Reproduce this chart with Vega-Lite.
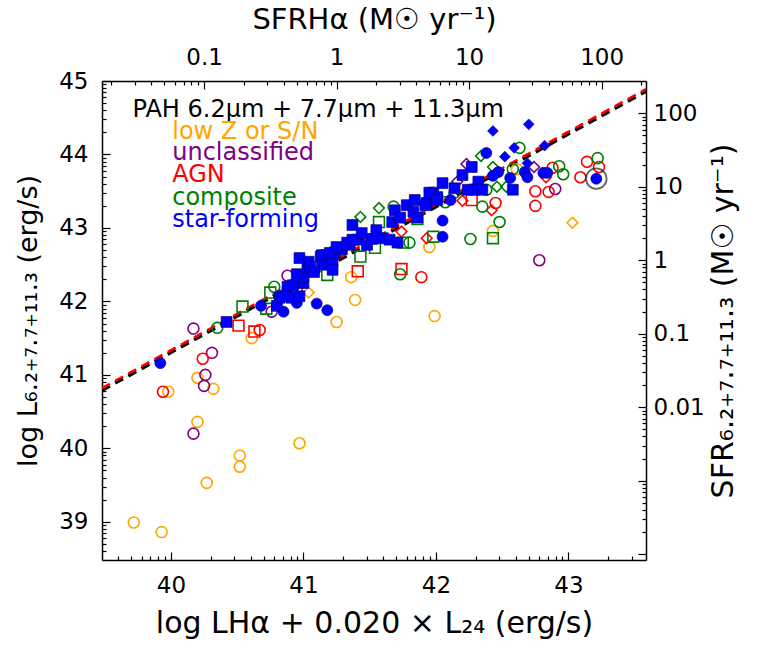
{
  "$schema": "https://vega.github.io/schema/vega-lite/v6.json",
  "width": 544,
  "height": 479,
  "autosize": {"type": "none"},
  "padding": {"left": 102, "top": 81, "right": 112, "bottom": 89},
  "background": "white",
  "config": {
    "font": "DejaVu Sans",
    "view": {"stroke": null},
    "axis": {
      "grid": false,
      "domainColor": "black",
      "domainWidth": 1.5,
      "tickColor": "black",
      "tickWidth": 1.2,
      "labelColor": "black",
      "titleColor": "black",
      "labelFont": "DejaVu Sans",
      "titleFont": "DejaVu Sans",
      "labelFontSize": 23,
      "titleFontSize": 29,
      "titleFontWeight": "normal",
      "labelFlush": false,
      "labelOverlap": false,
      "labelBound": false
    }
  },
  "datasets": {
    "pts": [
      {"x": 39.72, "y": 38.99, "cls": "lowz", "shape": "circle"},
      {"x": 39.93, "y": 38.86, "cls": "lowz", "shape": "circle"},
      {"x": 39.98, "y": 40.77, "cls": "lowz", "shape": "circle"},
      {"x": 40.20, "y": 40.96, "cls": "lowz", "shape": "circle"},
      {"x": 40.20, "y": 40.36, "cls": "lowz", "shape": "circle"},
      {"x": 40.32, "y": 40.81, "cls": "lowz", "shape": "circle"},
      {"x": 40.27, "y": 39.53, "cls": "lowz", "shape": "circle"},
      {"x": 40.52, "y": 39.90, "cls": "lowz", "shape": "circle"},
      {"x": 40.52, "y": 39.75, "cls": "lowz", "shape": "circle"},
      {"x": 40.97, "y": 40.07, "cls": "lowz", "shape": "circle"},
      {"x": 40.61, "y": 41.50, "cls": "lowz", "shape": "circle"},
      {"x": 41.25, "y": 41.72, "cls": "lowz", "shape": "circle"},
      {"x": 41.39, "y": 42.02, "cls": "lowz", "shape": "circle"},
      {"x": 41.36, "y": 42.33, "cls": "lowz", "shape": "circle"},
      {"x": 41.95, "y": 42.74, "cls": "lowz", "shape": "circle"},
      {"x": 41.99, "y": 41.80, "cls": "lowz", "shape": "circle"},
      {"x": 42.43, "y": 42.96, "cls": "lowz", "shape": "circle"},
      {"x": 42.61, "y": 43.80, "cls": "lowz", "shape": "circle"},
      {"x": 41.04, "y": 42.12, "cls": "lowz", "shape": "diamond"},
      {"x": 43.03, "y": 43.07, "cls": "lowz", "shape": "diamond"},
      {"x": 40.17, "y": 41.63, "cls": "uncl", "shape": "circle"},
      {"x": 40.31, "y": 41.30, "cls": "uncl", "shape": "circle"},
      {"x": 40.26, "y": 41.00, "cls": "uncl", "shape": "circle"},
      {"x": 40.25, "y": 40.85, "cls": "uncl", "shape": "circle"},
      {"x": 40.17, "y": 40.20, "cls": "uncl", "shape": "circle"},
      {"x": 40.76, "y": 41.86, "cls": "uncl", "shape": "circle"},
      {"x": 40.88, "y": 42.35, "cls": "uncl", "shape": "circle"},
      {"x": 42.90, "y": 43.53, "cls": "uncl", "shape": "circle"},
      {"x": 42.78, "y": 42.56, "cls": "uncl", "shape": "circle"},
      {"x": 42.23, "y": 43.87, "cls": "uncl", "shape": "diamond"},
      {"x": 42.16, "y": 43.63, "cls": "uncl", "shape": "diamond"},
      {"x": 42.74, "y": 43.83, "cls": "uncl", "shape": "diamond"},
      {"x": 39.94, "y": 40.77, "cls": "agn", "shape": "circle"},
      {"x": 40.24, "y": 41.22, "cls": "agn", "shape": "circle"},
      {"x": 40.67, "y": 41.61, "cls": "agn", "shape": "circle"},
      {"x": 40.95, "y": 42.16, "cls": "agn", "shape": "circle"},
      {"x": 41.89, "y": 42.33, "cls": "agn", "shape": "circle"},
      {"x": 42.45, "y": 43.34, "cls": "agn", "shape": "circle"},
      {"x": 42.75, "y": 43.50, "cls": "agn", "shape": "circle"},
      {"x": 42.75, "y": 43.30, "cls": "agn", "shape": "circle"},
      {"x": 42.85, "y": 43.49, "cls": "agn", "shape": "circle"},
      {"x": 42.88, "y": 43.82, "cls": "agn", "shape": "circle"},
      {"x": 43.09, "y": 43.69, "cls": "agn", "shape": "circle"},
      {"x": 43.14, "y": 43.90, "cls": "agn", "shape": "circle"},
      {"x": 43.23, "y": 43.83, "cls": "agn", "shape": "circle"},
      {"x": 40.51, "y": 41.67, "cls": "agn", "shape": "square"},
      {"x": 40.63, "y": 41.59, "cls": "agn", "shape": "square"},
      {"x": 41.41, "y": 42.41, "cls": "agn", "shape": "square"},
      {"x": 41.74, "y": 42.44, "cls": "agn", "shape": "square"},
      {"x": 42.27, "y": 43.38, "cls": "agn", "shape": "square"},
      {"x": 41.74, "y": 42.95, "cls": "agn", "shape": "diamond"},
      {"x": 41.93, "y": 42.86, "cls": "agn", "shape": "diamond"},
      {"x": 42.20, "y": 43.37, "cls": "agn", "shape": "diamond"},
      {"x": 42.42, "y": 43.24, "cls": "agn", "shape": "diamond"},
      {"x": 42.83, "y": 43.69, "cls": "agn", "shape": "diamond"},
      {"x": 40.35, "y": 41.64, "cls": "comp", "shape": "circle"},
      {"x": 40.78, "y": 42.20, "cls": "comp", "shape": "circle"},
      {"x": 41.68, "y": 43.29, "cls": "comp", "shape": "circle"},
      {"x": 41.80, "y": 42.80, "cls": "comp", "shape": "circle"},
      {"x": 41.73, "y": 42.37, "cls": "comp", "shape": "circle"},
      {"x": 42.14, "y": 43.48, "cls": "comp", "shape": "circle"},
      {"x": 42.07, "y": 43.35, "cls": "comp", "shape": "circle"},
      {"x": 42.35, "y": 43.29, "cls": "comp", "shape": "circle"},
      {"x": 42.38, "y": 43.52, "cls": "comp", "shape": "circle"},
      {"x": 42.48, "y": 43.08, "cls": "comp", "shape": "circle"},
      {"x": 42.26, "y": 42.85, "cls": "comp", "shape": "circle"},
      {"x": 42.63, "y": 44.09, "cls": "comp", "shape": "circle"},
      {"x": 42.58, "y": 43.80, "cls": "comp", "shape": "circle"},
      {"x": 42.93, "y": 43.84, "cls": "comp", "shape": "circle"},
      {"x": 42.96, "y": 43.73, "cls": "comp", "shape": "circle"},
      {"x": 43.22, "y": 43.95, "cls": "comp", "shape": "circle"},
      {"x": 40.54, "y": 41.93, "cls": "comp", "shape": "square"},
      {"x": 40.75, "y": 42.12, "cls": "comp", "shape": "square"},
      {"x": 40.72, "y": 41.90, "cls": "comp", "shape": "square"},
      {"x": 41.18, "y": 42.36, "cls": "comp", "shape": "square"},
      {"x": 41.18, "y": 42.63, "cls": "comp", "shape": "square"},
      {"x": 41.57, "y": 43.08, "cls": "comp", "shape": "square"},
      {"x": 41.54, "y": 42.73, "cls": "comp", "shape": "square"},
      {"x": 41.43, "y": 42.61, "cls": "comp", "shape": "square"},
      {"x": 41.19, "y": 42.57, "cls": "comp", "shape": "square"},
      {"x": 41.75, "y": 42.80, "cls": "comp", "shape": "square"},
      {"x": 41.86, "y": 43.12, "cls": "comp", "shape": "square"},
      {"x": 41.98, "y": 42.88, "cls": "comp", "shape": "square"},
      {"x": 42.43, "y": 42.86, "cls": "comp", "shape": "square"},
      {"x": 41.43, "y": 43.15, "cls": "comp", "shape": "diamond"},
      {"x": 41.57, "y": 43.27, "cls": "comp", "shape": "diamond"},
      {"x": 42.34, "y": 43.98, "cls": "comp", "shape": "diamond"},
      {"x": 42.43, "y": 43.83, "cls": "comp", "shape": "diamond"},
      {"x": 42.46, "y": 43.56, "cls": "comp", "shape": "diamond"},
      {"x": 42.53, "y": 43.56, "cls": "comp", "shape": "diamond"},
      {"x": 39.92, "y": 41.16, "cls": "sf", "shape": "circle"},
      {"x": 40.68, "y": 41.94, "cls": "sf", "shape": "circle"},
      {"x": 40.85, "y": 41.86, "cls": "sf", "shape": "circle"},
      {"x": 40.95, "y": 41.98, "cls": "sf", "shape": "circle"},
      {"x": 41.10, "y": 41.97, "cls": "sf", "shape": "circle"},
      {"x": 41.18, "y": 41.88, "cls": "sf", "shape": "circle"},
      {"x": 42.05, "y": 43.10, "cls": "sf", "shape": "circle"},
      {"x": 42.05, "y": 42.88, "cls": "sf", "shape": "circle"},
      {"x": 42.11, "y": 43.38, "cls": "sf", "shape": "circle"},
      {"x": 42.38, "y": 44.02, "cls": "sf", "shape": "circle"},
      {"x": 42.47, "y": 43.76, "cls": "sf", "shape": "circle"},
      {"x": 42.56, "y": 43.68, "cls": "sf", "shape": "circle"},
      {"x": 42.43, "y": 43.71, "cls": "sf", "shape": "circle"},
      {"x": 42.67, "y": 43.76, "cls": "sf", "shape": "circle"},
      {"x": 42.69, "y": 43.69, "cls": "sf", "shape": "circle"},
      {"x": 42.81, "y": 43.75, "cls": "sf", "shape": "circle"},
      {"x": 42.84, "y": 43.75, "cls": "sf", "shape": "circle"},
      {"x": 43.21, "y": 43.67, "cls": "sf", "shape": "circle"},
      {"x": 40.42, "y": 41.72, "cls": "sf", "shape": "square"},
      {"x": 40.80, "y": 41.94, "cls": "sf", "shape": "square"},
      {"x": 40.82, "y": 42.05, "cls": "sf", "shape": "square"},
      {"x": 40.88, "y": 42.12, "cls": "sf", "shape": "square"},
      {"x": 40.91, "y": 42.05, "cls": "sf", "shape": "square"},
      {"x": 40.88, "y": 42.20, "cls": "sf", "shape": "square"},
      {"x": 41.00, "y": 42.25, "cls": "sf", "shape": "square"},
      {"x": 40.84, "y": 42.07, "cls": "sf", "shape": "square"},
      {"x": 40.97, "y": 42.07, "cls": "sf", "shape": "square"},
      {"x": 40.92, "y": 42.22, "cls": "sf", "shape": "square"},
      {"x": 41.00, "y": 42.33, "cls": "sf", "shape": "square"},
      {"x": 41.03, "y": 42.46, "cls": "sf", "shape": "square"},
      {"x": 40.97, "y": 42.59, "cls": "sf", "shape": "square"},
      {"x": 41.04, "y": 42.54, "cls": "sf", "shape": "square"},
      {"x": 41.13, "y": 42.61, "cls": "sf", "shape": "square"},
      {"x": 41.14, "y": 42.50, "cls": "sf", "shape": "square"},
      {"x": 41.05, "y": 42.47, "cls": "sf", "shape": "square"},
      {"x": 41.14, "y": 42.63, "cls": "sf", "shape": "square"},
      {"x": 41.22, "y": 42.55, "cls": "sf", "shape": "square"},
      {"x": 41.22, "y": 42.43, "cls": "sf", "shape": "square"},
      {"x": 41.24, "y": 42.67, "cls": "sf", "shape": "square"},
      {"x": 41.29, "y": 42.71, "cls": "sf", "shape": "square"},
      {"x": 41.35, "y": 42.77, "cls": "sf", "shape": "square"},
      {"x": 41.37, "y": 43.04, "cls": "sf", "shape": "square"},
      {"x": 41.41, "y": 42.84, "cls": "sf", "shape": "square"},
      {"x": 41.44, "y": 42.93, "cls": "sf", "shape": "square"},
      {"x": 41.48, "y": 42.77, "cls": "sf", "shape": "square"},
      {"x": 41.52, "y": 42.85, "cls": "sf", "shape": "square"},
      {"x": 41.55, "y": 42.97, "cls": "sf", "shape": "square"},
      {"x": 41.60, "y": 42.86, "cls": "sf", "shape": "square"},
      {"x": 41.65, "y": 42.84, "cls": "sf", "shape": "square"},
      {"x": 41.71, "y": 42.80, "cls": "sf", "shape": "square"},
      {"x": 41.67, "y": 43.08, "cls": "sf", "shape": "square"},
      {"x": 41.69, "y": 43.24, "cls": "sf", "shape": "square"},
      {"x": 41.73, "y": 43.14, "cls": "sf", "shape": "square"},
      {"x": 41.78, "y": 43.31, "cls": "sf", "shape": "square"},
      {"x": 41.83, "y": 43.22, "cls": "sf", "shape": "square"},
      {"x": 41.86, "y": 43.14, "cls": "sf", "shape": "square"},
      {"x": 41.84, "y": 43.38, "cls": "sf", "shape": "square"},
      {"x": 41.93, "y": 43.34, "cls": "sf", "shape": "square"},
      {"x": 41.98, "y": 43.48, "cls": "sf", "shape": "square"},
      {"x": 42.01, "y": 43.42, "cls": "sf", "shape": "square"},
      {"x": 41.92, "y": 43.31, "cls": "sf", "shape": "square"},
      {"x": 41.95, "y": 43.48, "cls": "sf", "shape": "square"},
      {"x": 42.05, "y": 43.61, "cls": "sf", "shape": "square"},
      {"x": 42.20, "y": 43.72, "cls": "sf", "shape": "square"},
      {"x": 42.27, "y": 43.83, "cls": "sf", "shape": "square"},
      {"x": 42.32, "y": 43.63, "cls": "sf", "shape": "square"},
      {"x": 42.29, "y": 43.52, "cls": "sf", "shape": "square"},
      {"x": 42.35, "y": 43.52, "cls": "sf", "shape": "square"},
      {"x": 42.24, "y": 43.52, "cls": "sf", "shape": "square"},
      {"x": 42.14, "y": 43.54, "cls": "sf", "shape": "square"},
      {"x": 42.01, "y": 43.38, "cls": "sf", "shape": "square"},
      {"x": 42.58, "y": 43.52, "cls": "sf", "shape": "square"},
      {"x": 41.20, "y": 42.66, "cls": "sf", "shape": "square"},
      {"x": 41.25, "y": 42.74, "cls": "sf", "shape": "square"},
      {"x": 41.33, "y": 42.80, "cls": "sf", "shape": "square"},
      {"x": 41.37, "y": 42.84, "cls": "sf", "shape": "square"},
      {"x": 40.95, "y": 42.37, "cls": "sf", "shape": "square"},
      {"x": 41.08, "y": 42.40, "cls": "sf", "shape": "square"},
      {"x": 42.43, "y": 44.32, "cls": "sf", "shape": "diamond"},
      {"x": 42.70, "y": 44.41, "cls": "sf", "shape": "diamond"},
      {"x": 42.52, "y": 43.97, "cls": "sf", "shape": "diamond"},
      {"x": 42.59, "y": 44.09, "cls": "sf", "shape": "diamond"},
      {"x": 42.82, "y": 44.12, "cls": "sf", "shape": "diamond"},
      {"x": 42.69, "y": 43.88, "cls": "sf", "shape": "diamond"}
    ],
    "lines": [
      {"x": 39.48, "y": 40.79, "g": "k"},
      {"x": 43.585, "y": 44.86, "g": "k"},
      {"x": 39.48, "y": 40.82, "g": "r"},
      {"x": 43.585, "y": 44.89, "g": "r"}
    ],
    "ring": [{"x": 43.21, "y": 43.67}],
    "labels": [
      {"x": 39.71, "y": 44.61, "t": "PAH 6.2μm + 7.7μm + 11.3μm", "c": "#000000"},
      {"x": 40.01, "y": 44.31, "t": "low Z or S/N", "c": "#ffa500"},
      {"x": 40.01, "y": 44.02, "t": "unclassified", "c": "#800080"},
      {"x": 40.01, "y": 43.72, "t": "AGN", "c": "#ff0000"},
      {"x": 40.01, "y": 43.41, "t": "composite", "c": "#008000"},
      {"x": 40.01, "y": 43.11, "t": "star-forming", "c": "#0000ff"}
    ],
    "dummy": [{"a": 1, "b": 1}]
  },
  "layer": [
    {
      "encoding": {
        "x": {
          "field": "x", "type": "quantitative",
          "scale": {"domain": [39.48, 43.585], "nice": false, "zero": false},
          "axis": {
            "orient": "bottom",
            "title": "log LHα + 0.020 × L₂₄ (erg/s)",
            "titleFontSize": 30,
            "values": [39.60206, 39.69897, 39.77815, 39.8451, 39.90309, 39.95424, 40, 40.30103, 40.47712, 40.60206, 40.69897, 40.77815, 40.8451, 40.90309, 40.95424, 41, 41.30103, 41.47712, 41.60206, 41.69897, 41.77815, 41.8451, 41.90309, 41.95424, 42, 42.30103, 42.47712, 42.60206, 42.69897, 42.77815, 42.8451, 42.90309, 42.95424, 43, 43.30103, 43.47712],
            "labelExpr": "datum.value == round(datum.value) ? '' + datum.value : ''",
            "tickSize": {"condition": {"test": "datum.value == round(datum.value)", "value": -8}, "value": -4},
            "labelPadding": 22,
            "titlePadding": 7
          }
        },
        "y": {
          "field": "y", "type": "quantitative",
          "scale": {"domain": [38.48, 45], "nice": false, "zero": false},
          "axis": {
            "orient": "left",
            "title": "log L₆.₂₊₇.₇₊₁₁.₃ (erg/s)",
            "titleFontSize": 27,
            "values": [38.60206, 38.69897, 38.77815, 38.8451, 38.90309, 38.95424, 39, 39.30103, 39.47712, 39.60206, 39.69897, 39.77815, 39.8451, 39.90309, 39.95424, 40, 40.30103, 40.47712, 40.60206, 40.69897, 40.77815, 40.8451, 40.90309, 40.95424, 41, 41.30103, 41.47712, 41.60206, 41.69897, 41.77815, 41.8451, 41.90309, 41.95424, 42, 42.30103, 42.47712, 42.60206, 42.69897, 42.77815, 42.8451, 42.90309, 42.95424, 43, 43.30103, 43.47712, 43.60206, 43.69897, 43.77815, 43.8451, 43.90309, 43.95424, 44, 44.30103, 44.47712, 44.60206, 44.69897, 44.77815, 44.8451, 44.90309, 44.95424, 45],
            "labelExpr": "datum.value == round(datum.value) ? '' + datum.value : ''",
            "tickSize": {"condition": {"test": "datum.value == round(datum.value)", "value": -8}, "value": -4},
            "labelPadding": 22,
            "titlePadding": 16
          }
        }
      },
      "layer": [
        {
          "data": {"name": "lines"},
          "transform": [{"filter": "datum.g == 'k'"}],
          "mark": {"type": "line", "color": "black", "strokeWidth": 3.5, "strokeDash": [9, 6], "clip": true}
        },
        {
          "data": {"name": "lines"},
          "transform": [{"filter": "datum.g == 'r'"}],
          "mark": {"type": "line", "color": "#ff0000", "strokeWidth": 2.5, "strokeDash": [9, 6], "clip": true}
        },
        {
          "data": {"name": "pts"},
          "transform": [{"filter": "datum.cls != 'sf'"}],
          "mark": {"type": "point", "filled": false, "strokeWidth": 1.6, "opacity": 1},
          "encoding": {
            "color": {"field": "cls", "type": "nominal", "scale": {"domain": ["lowz", "uncl", "agn", "comp", "sf"], "range": ["#ffa500", "#800080", "#ff0000", "#008000", "#0000ff"]}, "legend": null},
            "shape": {"field": "shape", "type": "nominal", "scale": {"domain": ["circle", "square", "diamond"], "range": ["circle", "square", "diamond"]}, "legend": null},
            "size": {"field": "shape", "type": "ordinal", "scale": {"domain": ["circle", "square", "diamond"], "range": [120, 115, 180]}, "legend": null}
          }
        },
        {
          "data": {"name": "pts"},
          "transform": [{"filter": "datum.cls == 'sf'"}],
          "mark": {"type": "point", "filled": true, "fill": "#0000ff", "stroke": "#00008b", "strokeWidth": 0.7, "opacity": 1},
          "encoding": {
            "shape": {"field": "shape", "type": "nominal", "scale": {"domain": ["circle", "square", "diamond"], "range": ["circle", "square", "diamond"]}, "legend": null},
            "size": {"field": "shape", "type": "ordinal", "scale": {"domain": ["circle", "square", "diamond"], "range": [120, 115, 180]}, "legend": null}
          }
        },
        {
          "data": {"name": "ring"},
          "mark": {"type": "point", "filled": false, "shape": "circle", "size": 420, "stroke": "#222222", "strokeWidth": 1.8}
        },
        {
          "data": {"name": "labels"},
          "mark": {"type": "text", "align": "left", "baseline": "middle", "fontSize": 24, "font": "DejaVu Sans"},
          "encoding": {
            "text": {"field": "t"},
            "color": {"field": "c", "type": "nominal", "scale": null}
          }
        }
      ]
    },
    {
      "data": {"name": "dummy"},
      "mark": {"type": "point", "opacity": 0},
      "encoding": {
        "x": {
          "field": "a", "type": "quantitative",
          "scale": {"type": "log", "domain": [0.01698, 216.3], "nice": false},
          "axis": {
            "orient": "top",
            "title": "SFRHα (M☉ yr⁻¹)",
            "values": [0.02, 0.03, 0.04, 0.05, 0.06, 0.07, 0.08, 0.09, 0.1, 0.2, 0.3, 0.4, 0.5, 0.6, 0.7, 0.8, 0.9, 1, 2, 3, 4, 5, 6, 7, 8, 9, 10, 20, 30, 40, 50, 60, 70, 80, 90, 100, 200],
            "labelExpr": "indexof([0.1, 1, 10, 100], datum.value) >= 0 ? '' + datum.value : ''",
            "tickSize": {"condition": {"test": "indexof([0.1, 1, 10, 100], datum.value) >= 0", "value": -8}, "value": -4},
            "labelPadding": 20,
            "titlePadding": 8
          }
        },
        "y": {
          "field": "b", "type": "quantitative",
          "scale": {"type": "log", "domain": [0.0000832, 275.4], "nice": false},
          "axis": {
            "orient": "right",
            "title": "SFR₆.₂₊₇.₇₊₁₁.₃ (M☉ yr⁻¹)",
            "titleAngle": 270,
            "titleBaseline": "top",
            "titleFontSize": 30,
            "values": [0.0001, 0.0002, 0.0003, 0.0004, 0.0005, 0.0006, 0.0007, 0.0008, 0.0009, 0.001, 0.002, 0.003, 0.004, 0.005, 0.006, 0.007, 0.008, 0.009, 0.01, 0.02, 0.03, 0.04, 0.05, 0.06, 0.07, 0.08, 0.09, 0.1, 0.2, 0.3, 0.4, 0.5, 0.6, 0.7, 0.8, 0.9, 1, 2, 3, 4, 5, 6, 7, 8, 9, 10, 20, 30, 40, 50, 60, 70, 80, 90, 100, 200],
            "labelExpr": "indexof([0.01, 0.1, 1, 10, 100], datum.value) >= 0 ? '' + datum.value : ''",
            "tickSize": {"condition": {"test": "indexof([0.0001, 0.001, 0.01, 0.1, 1, 10, 100], datum.value) >= 0", "value": -8}, "value": -4},
            "labelPadding": 15,
            "titlePadding": 4
          }
        }
      }
    }
  ],
  "resolve": {"scale": {"x": "independent", "y": "independent"}}
}
